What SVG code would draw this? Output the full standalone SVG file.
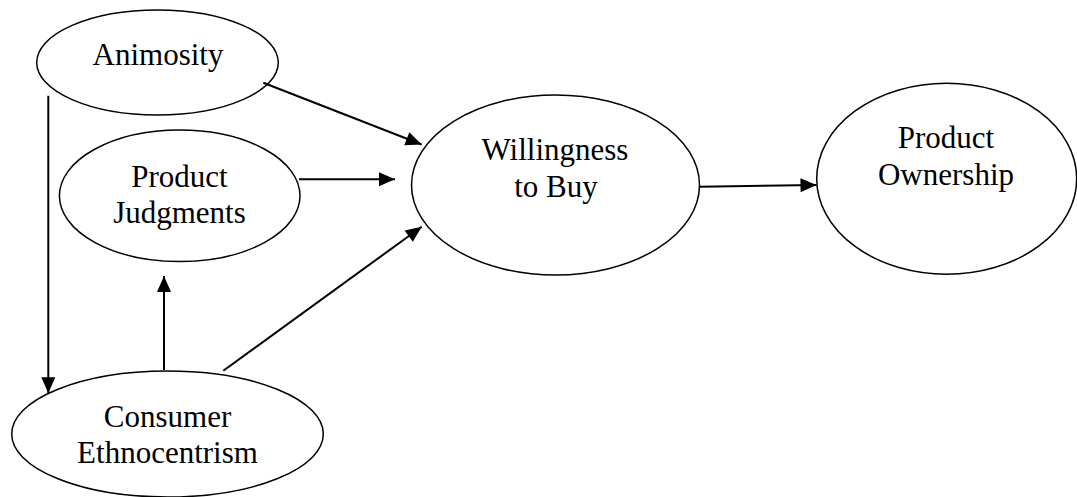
<svg xmlns="http://www.w3.org/2000/svg" width="1077" height="497" viewBox="0 0 1077 497">
<style>
.node ellipse{fill:#fff;stroke:#000;stroke-width:1.5}
.node text{font-family:"Liberation Serif","Times New Roman",serif;font-size:31px;fill:#000;text-anchor:middle}
.conn line{stroke:#000;stroke-width:2;marker-end:url(#ah)}
</style>
<defs>
<marker id="ah" markerUnits="userSpaceOnUse" markerWidth="16" markerHeight="14" refX="16" refY="7" orient="auto" overflow="visible">
<path d="M0,0 L16,7 L0,14 z" fill="#000"/>
</marker>
</defs>
<rect width="1077" height="497" fill="#fff"/>
<g id="animosity" class="node">
<ellipse cx="157.5" cy="62.5" rx="120.8" ry="52.5"/>
<text x="158" y="65">Animosity</text>
</g>
<g id="product-judgments" class="node">
<ellipse cx="179.7" cy="195.8" rx="120.3" ry="65.8"/>
<text x="179.5" y="186.7">Product</text>
<text x="179.5" y="222.7">Judgments</text>
</g>
<g id="consumer-ethnocentrism" class="node">
<ellipse cx="167.5" cy="434" rx="155.8" ry="63"/>
<text x="167.5" y="426.7">Consumer</text>
<text x="167.5" y="463.3">Ethnocentrism</text>
</g>
<g id="willingness" class="node">
<ellipse cx="555.5" cy="185" rx="144" ry="90"/>
<text x="555" y="160">Willingness</text>
<text x="556" y="196.7">to Buy</text>
</g>
<g id="product-ownership" class="node">
<ellipse cx="946.7" cy="178.7" rx="130" ry="95.5"/>
<text x="946" y="148.3">Product</text>
<text x="946" y="185">Ownership</text>
</g>
<g id="connectors" class="conn">
<line x1="48.3" y1="95.7" x2="48.3" y2="393.3"/>
<line x1="164" y1="370" x2="164" y2="276"/>
<line x1="223.3" y1="370.7" x2="421.7" y2="226.7"/>
<line x1="263.3" y1="82.7" x2="421.7" y2="144.5"/>
<line x1="299" y1="179.3" x2="395" y2="179.3"/>
<line x1="699" y1="186.7" x2="816.5" y2="185"/>
</g>
</svg>
